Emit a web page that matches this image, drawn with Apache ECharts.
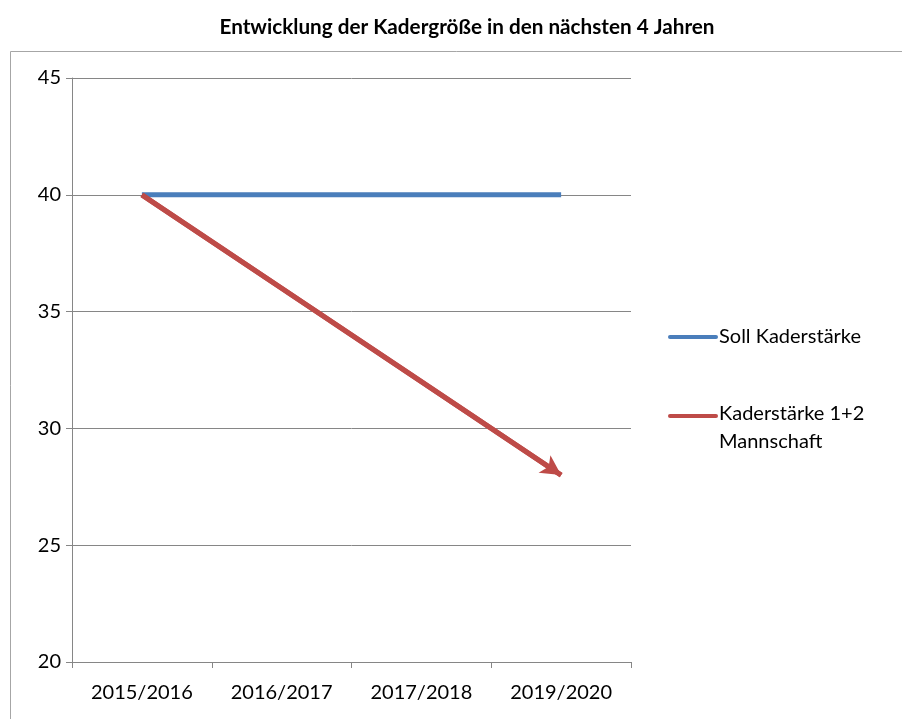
<!DOCTYPE html>
<html>
<head>
<meta charset="utf-8">
<script src="https://cdn.jsdelivr.net/npm/echarts@6/dist/echarts.min.js"></script>
<style>
  html, body { margin: 0; padding: 0; background: #fff; }
  #chart { width: 902px; height: 719px; }
</style>
</head>
<body>
<div id="chart"></div>
<script>
// data
var seasons = ['2015/2016', '2016/2017', '2017/2018', '2019/2020'];
var sollKader = [40, 40, 40, 40];
var kaderIst = [40, 36, 32, 28];
var seriesNames = ['Soll Kaderstärke', 'Kaderstärke 1+2\nMannschaft'];

var font = 'Lato';
var chart = echarts.init(document.getElementById('chart'));

// legend icons: 28px tall boxes with zero-length points keeping the box size,
// first one centred, second one at the top so it lines up with the first text line
var iconMid = 'path://M2,12 h46 a2,2 0 0 1 0,4 h-46 a2,2 0 0 1 0,-4 Z M0,0 L0,0 M0,28 L0,28';
var iconTop = 'path://M2,0 h46 a2,2 0 0 1 0,4 h-46 a2,2 0 0 1 0,-4 Z M0,28 L0,28';

chart.setOption({
  animation: false,
  title: {
    text: 'Entwicklung der Kadergröße in den nächsten 4 Jahren',
    left: 462,
    textAlign: 'center',
    top: 12,
    textStyle: { fontFamily: font, fontSize: 20.7, fontWeight: 'bold', color: '#000' }
  },
  graphic: [{
    type: 'rect',
    shape: { x: 10.5, y: 51.5, width: 1000, height: 800 },
    style: { fill: 'none', stroke: '#a6a6a6', lineWidth: 1 },
    silent: true,
    z: -1
  }],
  legend: {
    orient: 'vertical',
    left: 668,
    top: 323,
    padding: 0,
    itemGap: 49,
    itemWidth: 50,
    itemHeight: 28,
    data: [
      { name: seriesNames[0], icon: iconMid },
      { name: seriesNames[1], icon: iconTop }
    ],
    textStyle: { fontFamily: font, fontSize: 20, color: '#000', lineHeight: 28, padding: [0, 0, 0, -4] }
  },
  grid: { left: 72, right: 271, top: 78, bottom: 57 },
  xAxis: {
    type: 'category',
    data: seasons,
    boundaryGap: true,
    axisLine: { lineStyle: { color: '#868686', width: 1 } },
    axisTick: { show: true, length: 6, lineStyle: { color: '#868686' } },
    axisLabel: { fontFamily: font, fontSize: 20, color: '#000', margin: 21 }
  },
  yAxis: {
    type: 'value',
    min: 20,
    max: 45,
    interval: 5,
    axisLine: { show: true, lineStyle: { color: '#868686', width: 1 } },
    axisTick: { show: true, length: 6, lineStyle: { color: '#868686' } },
    axisLabel: { fontFamily: font, fontSize: 20, color: '#000', margin: 11 },
    splitLine: { lineStyle: { color: '#868686', width: 1 } }
  },
  series: [
    {
      name: seriesNames[0],
      type: 'line',
      data: sollKader,
      symbol: 'none',
      lineStyle: { color: '#4a7ebb', width: 5 },
      itemStyle: { color: '#4a7ebb' },
      z: 3
    },
    {
      name: seriesNames[1],
      type: 'line',
      data: kaderIst,
      symbol: 'none',
      lineStyle: { color: '#be4b48', width: 5 },
      itemStyle: { color: '#be4b48' },
      z: 4,
      markLine: {
        silent: true,
        symbol: ['none', 'arrow'],
        symbolSize: [16, 20],
        label: { show: false },
        lineStyle: { color: '#be4b48', width: 5, type: 'solid' },
        data: [[
          { coord: [seasons[0], kaderIst[0]] },
          { coord: [seasons[seasons.length - 1], kaderIst[kaderIst.length - 1]] }
        ]]
      }
    }
  ]
});
</script>
</body>
</html>
